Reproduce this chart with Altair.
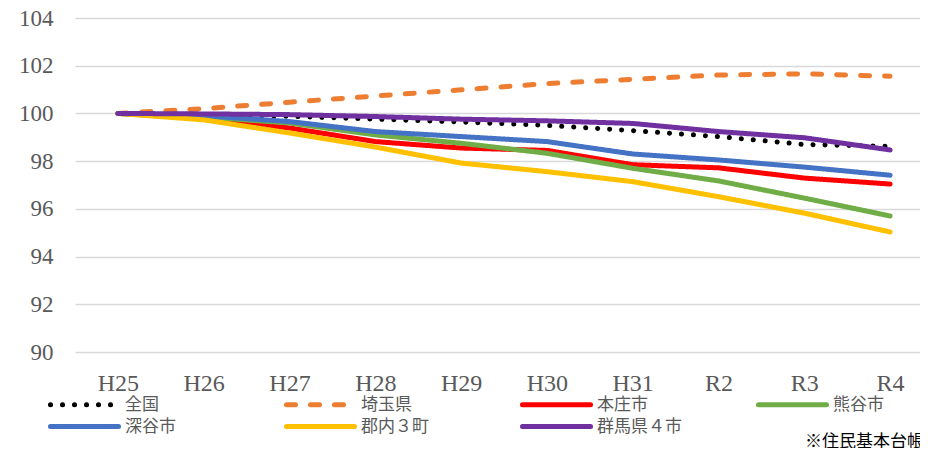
import altair as alt
import pandas as pd

years = ["H25", "H26", "H27", "H28", "H29", "H30", "H31", "R2", "R3", "R4"]
series = ["全国", "埼玉県", "本庄市", "熊谷市", "深谷市", "郡内３町", "群馬県４市"]

zenkoku = [100.0, 99.95, 99.88, 99.76, 99.64, 99.5, 99.28, 99.03, 98.7, 98.62]
saitama = [100.0, 100.2, 100.47, 100.73, 100.99, 101.25, 101.43, 101.61, 101.66, 101.56]
honjo = [100.0, 99.8, 99.39, 98.82, 98.55, 98.45, 97.85, 97.72, 97.29, 97.04]
kumagaya = [100.0, 99.85, 99.6, 99.1, 98.75, 98.33, 97.7, 97.17, 96.45, 95.7]
fukaya = [100.0, 99.9, 99.66, 99.24, 99.03, 98.82, 98.3, 98.05, 97.75, 97.41]
gunnai = [100.0, 99.73, 99.18, 98.59, 97.92, 97.56, 97.14, 96.51, 95.82, 95.03]
gunma4 = [100.0, 99.98, 99.95, 99.87, 99.76, 99.69, 99.58, 99.24, 98.98, 98.47]

colors = ["#000000", "#ED7D31", "#FF0000", "#70AD47", "#4472C4", "#FFC000", "#7030A0"]
dashes = [[0.1, 11.9], [9, 15], [1, 0], [1, 0], [1, 0], [1, 0], [1, 0]]
widths = [5, 5, 8.5, 5, 5, 5, 5]

note = "※住民基本台帳"

values = [zenkoku, saitama, honjo, kumagaya, fukaya, gunnai, gunma4]
rows = []
for s, vals in zip(series, values):
    for yr, v in zip(years, vals):
        rows.append({"year": yr, "series": s, "value": v})
df = pd.DataFrame(rows)

FONT = "Liberation Serif, Noto Sans CJK JP"

legend = alt.Legend(
    title=None,
    orient="none",
    legendX=-2,
    legendY=375,
    columns=4,
    direction="horizontal",
    gridAlign="all",
    columnPadding=66,
    rowPadding=0,
    symbolType="M-3.78,0H3.78",
    symbolSize=324,
    labelFontSize=17,
    labelFont=FONT,
    labelColor="#595959",
    labelOffset=29,
    labelLimit=200,
    symbolOpacity=1,
)

lines = alt.Chart(df).mark_line(strokeCap="round", strokeJoin="round").encode(
    x=alt.X(
        "year:N",
        sort=years,
        scale=alt.Scale(type="point", domain=years, range=[0, 858], padding=0.5),
        axis=alt.Axis(
            title=None,
            labelAngle=0,
            domain=False,
            ticks=False,
            grid=False,
            labelFontSize=24,
            labelFont=FONT,
            labelColor="#595959",
            labelPadding=19,
        ),
    ),
    y=alt.Y(
        "value:Q",
        scale=alt.Scale(domain=[90, 104], nice=False, zero=False),
        axis=alt.Axis(
            title=None,
            values=[90, 92, 94, 96, 98, 100, 102, 104],
            domain=False,
            ticks=False,
            grid=True,
            gridColor="#d9d9d9",
            gridWidth=1.3,
            labelFontSize=23,
            labelFont=FONT,
            labelColor="#595959",
            labelPadding=22,
        ),
    ),
    color=alt.Color(
        "series:N",
        sort=series,
        scale=alt.Scale(domain=series, range=colors),
        legend=legend,
    ),
    strokeDash=alt.StrokeDash(
        "series:N",
        sort=series,
        scale=alt.Scale(domain=series, range=dashes),
        legend=legend,
    ),
    strokeWidth=alt.StrokeWidth(
        "series:N",
        sort=series,
        scale=alt.Scale(domain=series, range=widths),
        legend=legend,
    ),
    order=alt.Order("year:N"),
)

note_text = alt.Chart(pd.DataFrame({"t": [note]})).mark_text(
    align="left", baseline="middle", fontSize=17, font=FONT, color="#000000"
).encode(text="t:N", x=alt.value(730), y=alt.value(424))

chart = alt.layer(lines, note_text).properties(
    width=845,
    height=334,
    autosize=alt.AutoSizeParams(type="none"),
    padding={"left": 67, "top": 10, "right": 0, "bottom": 96},
).configure_view(stroke=None).configure_legend(
    symbolStrokeWidth=5
)

patch = [
    {
        "op": "add",
        "path": "/legends/0/encode",
        "value": {"symbols": {"update": {"strokeCap": {"value": "round"}}}},
    }
]

chart.save(
    "out.html",
    embed_options={"renderer": "svg", "actions": False, "patch": patch},
)
